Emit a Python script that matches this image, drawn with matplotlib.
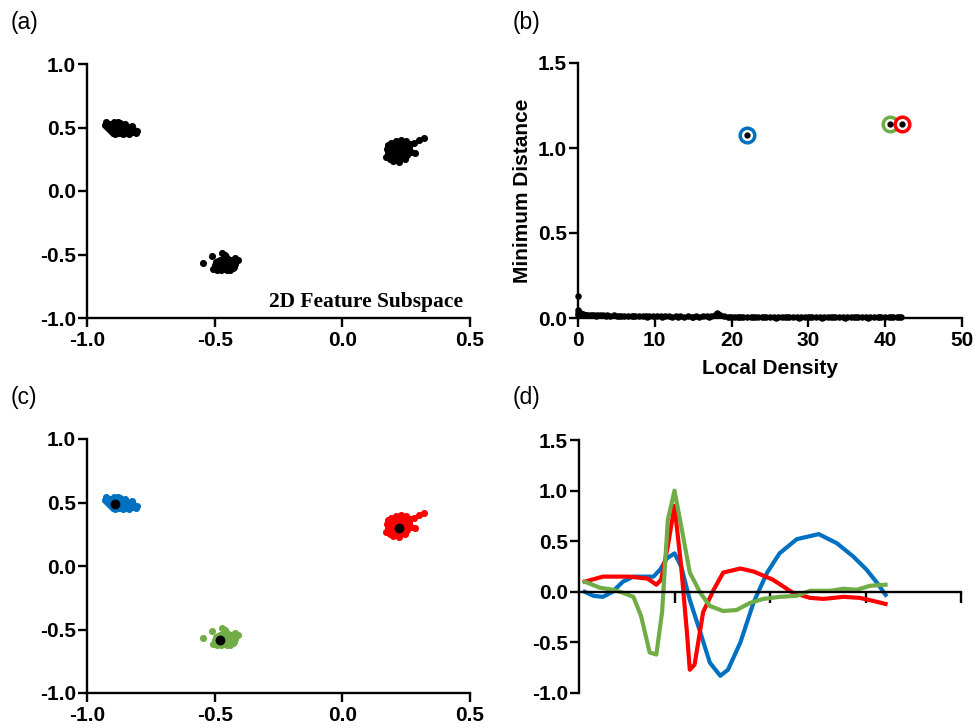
import matplotlib
matplotlib.use("Agg")
import matplotlib.pyplot as plt

plt.rcParams['font.family'] = ['Liberation Sans', 'DejaVu Sans']
plt.rcParams['axes.unicode_minus'] = False

# colours of the three clusters
c_blue = '#0070C0'
c_green = '#70AD47'
c_red = '#FF0000'

# cluster 1 (top left)
A_x = [-0.93, -0.925, -0.92, -0.915, -0.91, -0.905, -0.90, -0.90, -0.895, -0.89,
       -0.89, -0.885, -0.88, -0.88, -0.875, -0.87, -0.87, -0.865, -0.86, -0.86,
       -0.855, -0.85, -0.85, -0.845, -0.84, -0.84, -0.835, -0.83, -0.825, -0.82,
       -0.815, -0.81, -0.805, -0.90, -0.89, -0.88, -0.87, -0.86, -0.85, -0.91,
       -0.895, -0.875, -0.865, -0.84, -0.83]
A_y = [0.52, 0.545, 0.505, 0.49, 0.53, 0.475, 0.51, 0.46, 0.54, 0.495,
       0.45, 0.525, 0.48, 0.545, 0.46, 0.505, 0.535, 0.47, 0.49, 0.45,
       0.515, 0.48, 0.53, 0.46, 0.505, 0.475, 0.45, 0.49, 0.515, 0.465,
       0.48, 0.46, 0.475, 0.50, 0.47, 0.51, 0.485, 0.52, 0.495, 0.50,
       0.515, 0.495, 0.455, 0.49, 0.47]

# cluster 2 (bottom middle)
B_x = [-0.545, -0.51, -0.50, -0.495, -0.49, -0.49, -0.485, -0.48, -0.48, -0.475,
       -0.47, -0.47, -0.465, -0.46, -0.46, -0.455, -0.45, -0.45, -0.445, -0.44,
       -0.44, -0.435, -0.43, -0.425, -0.42, -0.41, -0.50, -0.49, -0.48, -0.47,
       -0.46, -0.45, -0.44, -0.43, -0.505, -0.475, -0.465, -0.455, -0.445, -0.435,
       -0.485, -0.46, -0.42, -0.43, -0.47]
B_y = [-0.57, -0.51, -0.60, -0.56, -0.62, -0.58, -0.55, -0.60, -0.57, -0.62,
       -0.54, -0.59, -0.56, -0.50, -0.61, -0.57, -0.53, -0.60, -0.55, -0.58,
       -0.62, -0.54, -0.57, -0.60, -0.53, -0.545, -0.58, -0.61, -0.54, -0.56,
       -0.58, -0.62, -0.56, -0.59, -0.615, -0.59, -0.52, -0.545, -0.60, -0.565,
       -0.58, -0.615, -0.575, -0.61, -0.485]

# cluster 3 (right)
C_x = [0.17, 0.175, 0.18, 0.18, 0.185, 0.19, 0.19, 0.195, 0.20, 0.20,
       0.205, 0.21, 0.21, 0.215, 0.22, 0.22, 0.225, 0.23, 0.23, 0.235,
       0.24, 0.24, 0.245, 0.25, 0.25, 0.255, 0.26, 0.265, 0.27, 0.28,
       0.285, 0.30, 0.32, 0.20, 0.21, 0.22, 0.23, 0.24, 0.19, 0.215,
       0.225, 0.235, 0.205, 0.245, 0.255]
C_y = [0.27, 0.33, 0.30, 0.36, 0.25, 0.32, 0.38, 0.28, 0.35, 0.24,
       0.31, 0.39, 0.27, 0.34, 0.23, 0.31, 0.37, 0.26, 0.40, 0.33,
       0.29, 0.36, 0.25, 0.32, 0.39, 0.28, 0.34, 0.37, 0.31, 0.38,
       0.30, 0.40, 0.415, 0.30, 0.35, 0.28, 0.33, 0.31, 0.34, 0.26,
       0.35, 0.29, 0.37, 0.34, 0.30]

# cluster centres
cen_x = [-0.889, -0.478, 0.22]
cen_y = [0.49, -0.582, 0.30]

# decision graph (b)
dens = [0.0, 0.0, 0.1, 0.2, 0.3, 0.5, 0.7, 0.9, 1.2, 1.5,
        1.8, 2.1, 2.5, 2.9, 3.3, 3.8, 4.2, 4.7, 5.1, 5.6,
        6.0, 6.5, 7.0, 7.4, 7.9, 8.4, 8.8, 9.3, 9.8, 10.3,
        10.8, 11.3, 11.8, 12.3, 12.8, 13.3, 13.8, 14.3, 14.8, 15.3,
        15.8, 16.3, 16.8, 17.3, 17.8, 18.1, 18.5, 19.0, 19.5, 20.0,
        20.5, 21.0, 21.5, 22.5, 23.0, 23.5, 24.0, 24.5, 25.0, 25.5,
        26.0, 26.5, 27.0, 27.5, 28.0, 28.5, 29.0, 29.5, 30.0, 30.5,
        31.0, 31.5, 32.0, 32.5, 33.0, 33.5, 34.0, 34.5, 35.0, 35.5,
        36.0, 36.5, 37.0, 37.5, 38.0, 38.5, 39.0, 39.5, 40.0, 40.5,
        41.0, 41.5, 42.0, 0.0, 0.05, 0.15, 0.4, 0.6, 1.0, 18.2,
        22.0, 21.2, 20.8, 19.8, 41.8, 40.8, 39.2, 37.8, 36.2, 34.8,
        33.2, 31.8, 30.2, 28.8, 27.2, 25.8, 24.2, 22.8, 17.0, 15.0,
        13.0, 11.0, 9.0, 7.2, 5.3, 3.6, 2.3, 1.0, 0.4, 0.25]
dist = [0.13, 0.045, 0.035, 0.03, 0.028, 0.025, 0.022, 0.02, 0.02, 0.018,
        0.019, 0.017, 0.016, 0.017, 0.015, 0.016, 0.014, 0.015, 0.013, 0.014,
        0.012, 0.013, 0.012, 0.011, 0.012, 0.010, 0.011, 0.012, 0.010, 0.009,
        0.010, 0.009, 0.010, 0.008, 0.009, 0.010, 0.008, 0.009, 0.008, 0.010,
        0.008, 0.009, 0.010, 0.012, 0.018, 0.030, 0.015, 0.009, 0.008, 0.007,
        0.008, 0.007, 0.008, 0.007, 0.006, 0.008, 0.007, 0.006, 0.007, 0.008,
        0.006, 0.007, 0.006, 0.005, 0.007, 0.006, 0.005, 0.006, 0.007, 0.005,
        0.006, 0.005, 0.006, 0.007, 0.005, 0.006, 0.005, 0.004, 0.006, 0.005,
        0.004, 0.006, 0.005, 0.004, 0.005, 0.004, 0.006, 0.004, 0.005, 0.004,
        0.005, 0.004, 0.006, 0.02, 0.03, 0.025, 0.018, 0.02, 0.015, 0.022,
        0.005, 0.004, 0.006, 0.005, 0.003, 0.003, 0.003, 0.002, 0.003, 0.002,
        0.003, 0.002, 0.003, 0.002, 0.003, 0.002, 0.003, 0.004, 0.006, 0.005,
        0.006, 0.007, 0.008, 0.009, 0.010, 0.012, 0.013, 0.016, 0.022, 0.018]
peak_dens = [22.0, 40.65, 42.2]
peak_dist = [1.078, 1.142, 1.142]

# centre curves (d)
blue_x = [0.06, 0.15, 0.25, 0.35, 0.46, 0.57, 0.68, 0.78, 0.85, 0.92,
          1.0, 1.07, 1.16, 1.27, 1.37, 1.48, 1.56, 1.69, 1.83, 1.97,
          2.10, 2.28, 2.51, 2.70, 2.87, 3.01, 3.12, 3.21]
blue_y = [0.0, -0.04, -0.05, 0.0, 0.10, 0.15, 0.15, 0.15, 0.22, 0.33,
          0.38, 0.25, -0.08, -0.40, -0.70, -0.83, -0.77, -0.50, -0.10, 0.19,
          0.38, 0.52, 0.57, 0.48, 0.35, 0.22, 0.09, -0.03]
red_x = [0.06, 0.25, 0.53, 0.72, 0.81, 0.86, 0.93, 1.0, 1.07, 1.13,
         1.16, 1.21, 1.30, 1.41, 1.51, 1.69, 1.83, 2.03, 2.24, 2.42,
         2.56, 2.77, 2.94, 3.08, 3.21]
red_y = [0.10, 0.15, 0.15, 0.13, 0.07, 0.12, 0.45, 0.85, 0.25, -0.40,
         -0.77, -0.72, -0.20, 0.02, 0.19, 0.23, 0.20, 0.12, -0.01, -0.06,
         -0.07, -0.05, -0.06, -0.09, -0.12]
green_x = [0.06, 0.22, 0.36, 0.46, 0.57, 0.65, 0.74, 0.81, 0.87, 0.93,
           1.0, 1.07, 1.16, 1.27, 1.37, 1.51, 1.65, 1.79, 1.93, 2.10,
           2.28, 2.42, 2.63, 2.77, 2.91, 3.05, 3.21]
green_y = [0.10, 0.04, 0.02, -0.01, -0.05, -0.24, -0.60, -0.62, -0.20, 0.71,
           1.0, 0.65, 0.19, -0.01, -0.14, -0.19, -0.18, -0.11, -0.07, -0.05,
           -0.04, 0.01, 0.01, 0.03, 0.02, 0.06, 0.07]

W, H = 977, 728
fig = plt.figure(figsize=(W / 100, H / 100), dpi=100)


def box(l, t, r, b):
    return [l / W, 1 - b / H, (r - l) / W, (b - t) / H]


def style(ax, xlen=6.5):
    for s in ['top', 'right']:
        ax.spines[s].set_visible(False)
    for s in ['left', 'bottom']:
        ax.spines[s].set_linewidth(1.7)
    ax.tick_params(width=1.7, length=6.5, labelsize=15, pad=1.5)
    ax.tick_params(axis='x', length=xlen, pad=3)
    for lab in ax.get_xticklabels() + ax.get_yticklabels():
        lab.set_fontweight('bold')


ax_a = fig.add_axes(box(87, 64, 470, 318))
ax_b = fig.add_axes(box(578, 63, 962, 318))
ax_c = fig.add_axes(box(87, 439, 470, 693))
ax_d = fig.add_axes(box(579, 440, 961, 693))

# (a)
for xs, ys in [(A_x, A_y), (B_x, B_y), (C_x, C_y)]:
    ax_a.scatter(xs, ys, s=26, color='black', linewidths=0)
ax_a.set_xlim(-1.0, 0.5)
ax_a.set_ylim(-1.0, 1.0)
ax_a.set_xticks([-1.0, -0.5, 0.0, 0.5])
ax_a.set_yticks([-1.0, -0.5, 0.0, 0.5, 1.0])
ax_a.set_xticklabels(['-1.0', '-0.5', '0.0', '0.5'])
ax_a.set_yticklabels(['-1.0', '-0.5', '0.0', '0.5', '1.0'])
ax_a.text(0.982, 0.063, '2D Feature Subspace', transform=ax_a.transAxes,
          ha='right', va='center', fontsize=15.5, fontweight='bold',
          family='Liberation Serif')
style(ax_a)

# (b)
ax_b.scatter(dens, dist, s=22, color='black', linewidths=0, clip_on=False, zorder=3)
for dx, dy, col in zip(peak_dens, peak_dist, [c_blue, c_green, c_red]):
    ax_b.plot(dx, dy, 'o', ms=10.5, mfc='white', mec=col, mew=2.5, zorder=4)
    ax_b.plot(dx, dy, 'o', ms=3.5, color='black', zorder=5)
ax_b.set_xlim(0, 50)
ax_b.set_ylim(0, 1.5)
ax_b.set_xticks([0, 10, 20, 30, 40, 50])
ax_b.set_yticks([0.0, 0.5, 1.0, 1.5])
ax_b.set_yticklabels(['0.0', '0.5', '1.0', '1.5'])
ax_b.set_xlabel('Local Density', fontsize=15, fontweight='bold', labelpad=6)
ax_b.set_ylabel('Minimum Distance', fontsize=15, fontweight='bold', labelpad=4)
style(ax_b)

# (c)
for xs, ys, col in [(A_x, A_y, c_blue), (B_x, B_y, c_green), (C_x, C_y, c_red)]:
    ax_c.scatter(xs, ys, s=26, color=col, linewidths=0)
ax_c.scatter(cen_x, cen_y, s=50, color='black', linewidths=0, zorder=3)
ax_c.set_xlim(-1.0, 0.5)
ax_c.set_ylim(-1.0, 1.0)
ax_c.set_xticks([-1.0, -0.5, 0.0, 0.5])
ax_c.set_yticks([-1.0, -0.5, 0.0, 0.5, 1.0])
ax_c.set_xticklabels(['-1.0', '-0.5', '0.0', '0.5'])
ax_c.set_yticklabels(['-1.0', '-0.5', '0.0', '0.5', '1.0'])
style(ax_c)

# (d)
ax_d.plot(blue_x, blue_y, color=c_blue, lw=3, solid_joinstyle='round')
ax_d.plot(red_x, red_y, color=c_red, lw=3, solid_joinstyle='round')
ax_d.plot(green_x, green_y, color=c_green, lw=3, solid_joinstyle='round')
ax_d.set_xlim(0, 4)
ax_d.set_ylim(-1.0, 1.5)
ax_d.spines['bottom'].set_position(('data', 0))
ax_d.set_xticks([1, 2, 3, 4])
ax_d.set_xticklabels([])
ax_d.set_yticks([-1.0, -0.5, 0.0, 0.5, 1.0, 1.5])
ax_d.set_yticklabels(['-1.0', '-0.5', '0.0', '0.5', '1.0', '1.5'])
style(ax_d, xlen=8)

# panel letters
for lx, ly, t in [(11, 23, '(a)'), (513, 23, '(b)'), (11, 398, '(c)'), (513, 398, '(d)')]:
    fig.text(lx / W, 1 - ly / H, t, fontsize=16.5, va='center', ha='left')

fig.savefig('out.png', dpi=100)
